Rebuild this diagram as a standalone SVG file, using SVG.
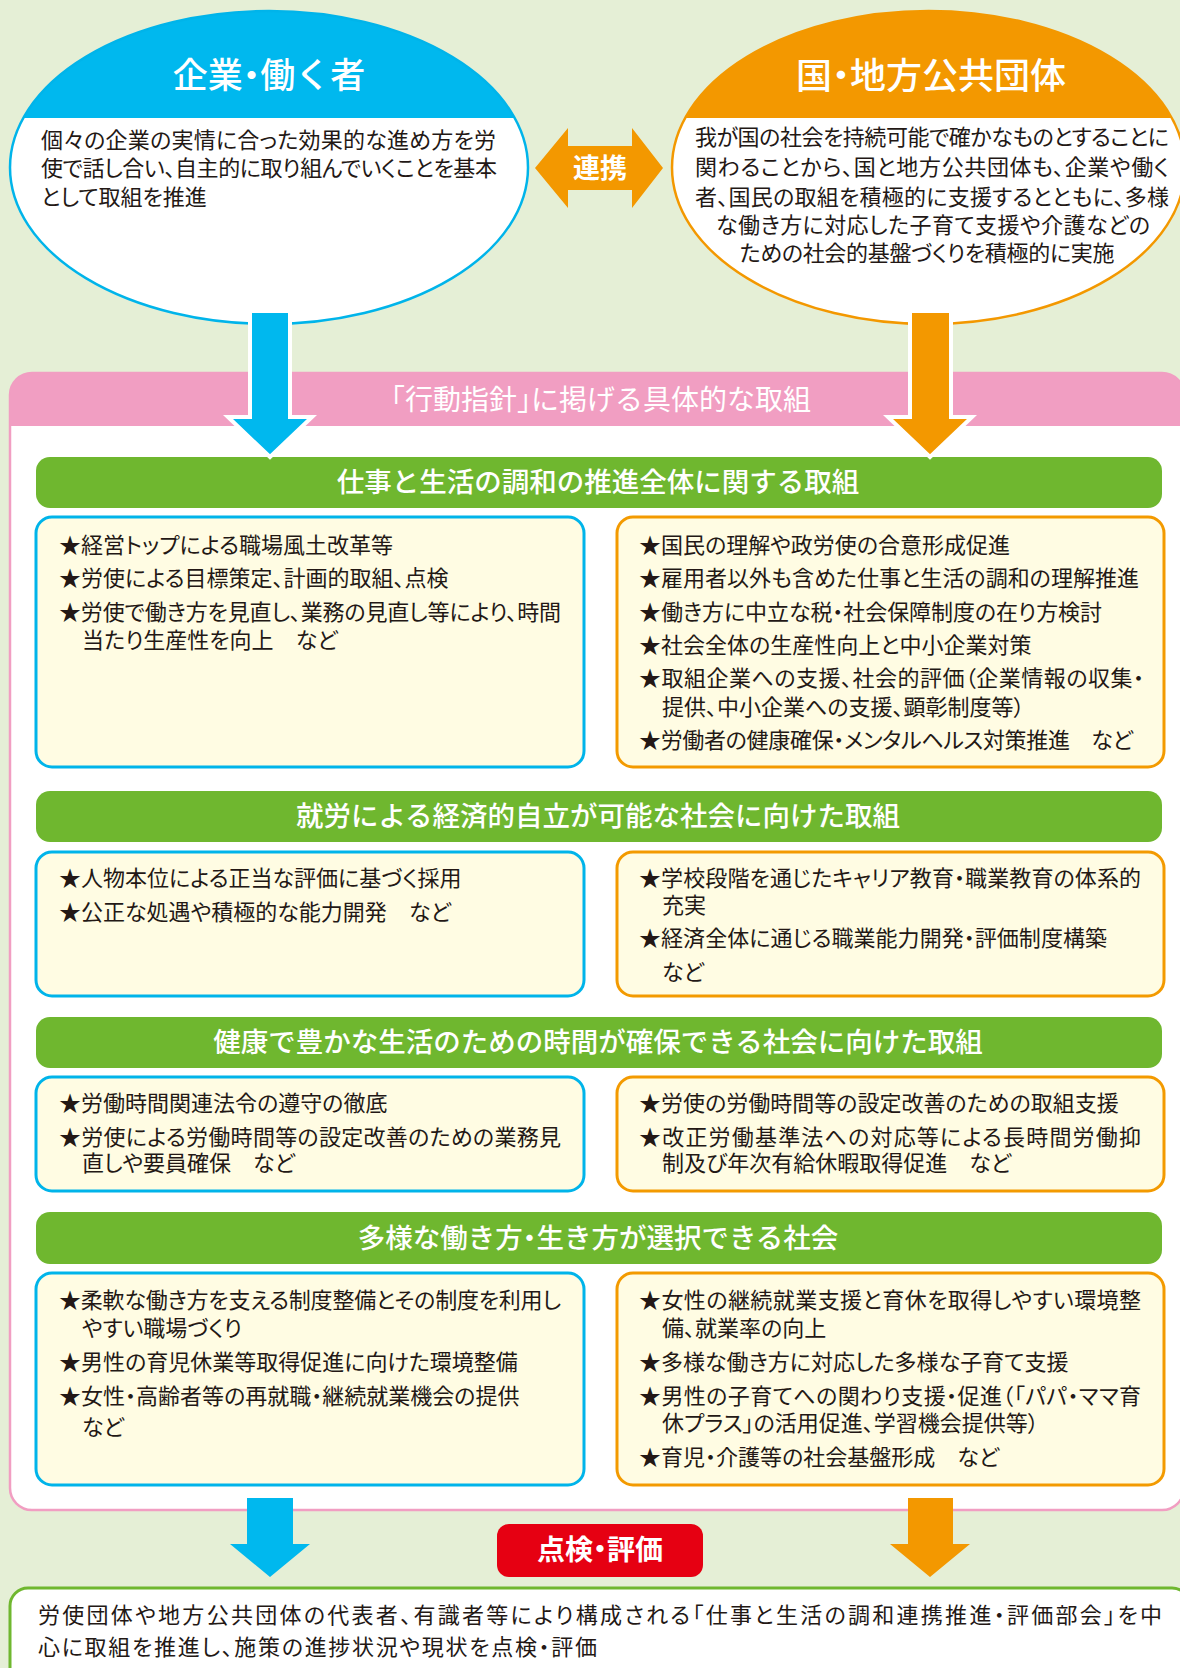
<svg xmlns="http://www.w3.org/2000/svg" width="1180" height="1668" viewBox="0 0 1180 1668">
<style>
.t{font-family:"Liberation Sans","Noto Sans CJK JP",sans-serif;font-feature-settings:"halt";}
.body{font-size:22px;fill:#231815;font-weight:400;font-feature-settings:"palt";}
.wt{fill:#fff;}
.bar{fill:#6FB72F;}
.lbox{fill:#FFFCE3;stroke:#00B4EA;stroke-width:3;}
.rbox{fill:#FFFCE3;stroke:#F39A00;stroke-width:3;}
.bt{font-size:27.5px;fill:#fff;text-anchor:middle;font-weight:500;}
.et{font-weight:500;text-anchor:middle;}
</style>
<defs>
<clipPath id="cl"><ellipse cx="269" cy="167.5" rx="259" ry="156.5"/></clipPath>
<clipPath id="cr"><ellipse cx="928.5" cy="167.5" rx="256.5" ry="156.5"/></clipPath>
</defs>
<rect x="0" y="0" width="1180" height="1668" fill="#E5EFD6"/>

<g id="node-kigyo">
<ellipse cx="269" cy="167.5" rx="259" ry="156.5" fill="#fff"/>
<rect x="0" y="0" width="540" height="118" fill="#00B8EE" clip-path="url(#cl)"/>
<ellipse cx="269" cy="167.5" rx="259" ry="156.5" fill="none" stroke="#00B4EA" stroke-width="2.5"/>
<text class="t wt et" x="269" y="88" font-size="35">企業・働く者</text>
<text class="t body" x="41" y="148" textLength="455">個々の企業の実情に合った効果的な進め方を労</text>
<text class="t body" x="41" y="176" textLength="456">使で話し合い、自主的に取り組んでいくことを基本</text>
<text class="t body" x="41" y="205">として取組を推進</text>
</g>

<g id="node-kuni">
<ellipse cx="928.5" cy="167.5" rx="256.5" ry="156.5" fill="#fff"/>
<rect x="660" y="0" width="530" height="118" fill="#F39800" clip-path="url(#cr)"/>
<ellipse cx="928.5" cy="167.5" rx="256.5" ry="156.5" fill="none" stroke="#F39800" stroke-width="2.5"/>
<text class="t wt et" x="931" y="89" font-size="36">国・地方公共団体</text>
<g class="t body" text-anchor="middle">
<text x="932" y="145" textLength="474">我が国の社会を持続可能で確かなものとすることに</text>
<text x="932" y="175" textLength="474">関わることから、国と地方公共団体も、企業や働く</text>
<text x="932" y="205" textLength="474">者、国民の取組を積極的に支援するとともに、多様</text>
<text x="933" y="233" textLength="434">な働き方に対応した子育て支援や介護などの</text>
<text x="927" y="261" textLength="375">ための社会的基盤づくりを積極的に実施</text>
</g>
</g>

<g id="node-panel">
<rect x="10" y="373" width="1174" height="1137" rx="22" fill="#fff" stroke="#F19EC2" stroke-width="2.5"/>
<path d="M10,426 V395 A22,22 0 0 1 32,373 H1162 A22,22 0 0 1 1184,395 V426 Z" fill="#F19EC2"/>
<text class="t wt" x="601" y="410" font-size="28" text-anchor="middle">「行動指針」に掲げる具体的な取組</text>
</g>

<g id="section-1">
<rect class="bar" x="36" y="457" width="1126" height="51" rx="14"/>
<text class="t bt" x="598" y="492">仕事と生活の調和の推進全体に関する取組</text>
<rect class="lbox" x="36" y="517" width="548" height="250" rx="16"/>
<rect class="rbox" x="617" y="517" width="547" height="250" rx="16"/>
<g class="t body">
<text x="59" y="553">★経営トップによる職場風土改革等</text>
<text x="59" y="586">★労使による目標策定、計画的取組、点検</text>
<text x="59" y="620" textLength="502">★労使で働き方を見直し、業務の見直し等により、時間</text>
<text x="82" y="648">当たり生産性を向上　など</text>
<text x="639" y="553">★国民の理解や政労使の合意形成促進</text>
<text x="639" y="586" textLength="500">★雇用者以外も含めた仕事と生活の調和の理解推進</text>
<text x="639" y="620" textLength="463">★働き方に中立な税・社会保障制度の在り方検討</text>
<text x="639" y="653">★社会全体の生産性向上と中小企業対策</text>
<text x="639" y="686" textLength="505">★取組企業への支援、社会的評価（企業情報の収集・</text>
<text x="662" y="715">提供、中小企業への支援、顕彰制度等）</text>
<text x="639" y="748" textLength="494">★労働者の健康確保・メンタルヘルス対策推進　など</text>
</g>
</g>

<g id="section-2">
<rect class="bar" x="36" y="791" width="1126" height="51" rx="14"/>
<text class="t bt" x="598" y="826">就労による経済的自立が可能な社会に向けた取組</text>
<rect class="lbox" x="36" y="852" width="548" height="144" rx="16"/>
<rect class="rbox" x="617" y="852" width="547" height="144" rx="16"/>
<g class="t body">
<text x="59" y="886">★人物本位による正当な評価に基づく採用</text>
<text x="59" y="920">★公正な処遇や積極的な能力開発　など</text>
<text x="639" y="886" textLength="502">★学校段階を通じたキャリア教育・職業教育の体系的</text>
<text x="662" y="913">充実</text>
<text x="639" y="946" textLength="468">★経済全体に通じる職業能力開発・評価制度構築</text>
<text x="662" y="980">など</text>
</g>
</g>

<g id="section-3">
<rect class="bar" x="36" y="1017" width="1126" height="51" rx="14"/>
<text class="t bt" x="598" y="1052">健康で豊かな生活のための時間が確保できる社会に向けた取組</text>
<rect class="lbox" x="36" y="1077" width="548" height="114" rx="16"/>
<rect class="rbox" x="617" y="1077" width="547" height="114" rx="16"/>
<g class="t body">
<text x="59" y="1111">★労働時間関連法令の遵守の徹底</text>
<text x="59" y="1145" textLength="502">★労使による労働時間等の設定改善のための業務見</text>
<text x="82" y="1171">直しや要員確保　など</text>
<text x="639" y="1111">★労使の労働時間等の設定改善のための取組支援</text>
<text x="639" y="1145" textLength="502">★改正労働基準法への対応等による長時間労働抑</text>
<text x="662" y="1171">制及び年次有給休暇取得促進　など</text>
</g>
</g>

<g id="section-4">
<rect class="bar" x="36" y="1212" width="1126" height="52" rx="14"/>
<text class="t bt" x="598" y="1248">多様な働き方・生き方が選択できる社会</text>
<rect class="lbox" x="36" y="1273" width="548" height="212" rx="16"/>
<rect class="rbox" x="617" y="1273" width="547" height="212" rx="16"/>
<g class="t body">
<text x="59" y="1308" textLength="502">★柔軟な働き方を支える制度整備とその制度を利用し</text>
<text x="82" y="1336">やすい職場づくり</text>
<text x="59" y="1370">★男性の育児休業等取得促進に向けた環境整備</text>
<text x="59" y="1404">★女性・高齢者等の再就職・継続就業機会の提供</text>
<text x="82" y="1435">など</text>
<text x="639" y="1308" textLength="502">★女性の継続就業支援と育休を取得しやすい環境整</text>
<text x="662" y="1336">備、就業率の向上</text>
<text x="639" y="1370">★多様な働き方に対応した多様な子育て支援</text>
<text x="639" y="1404" textLength="502">★男性の子育てへの関わり支援・促進（「パパ・ママ育</text>
<text x="662" y="1431">休プラス」の活用促進、学習機会提供等）</text>
<text x="639" y="1465">★育児・介護等の社会基盤形成　など</text>
</g>
</g>

<g id="connectors">
<polygon points="535,168 568,128 568,146 632,146 632,128 663,168 632,208 632,190 568,190 568,208" fill="#F39800"/>
<text class="t wt" x="600" y="178" font-size="27" font-weight="bold" text-anchor="middle">連携</text>
<polygon points="250,311 290,311 290,417 312,417 270,457 228,417 250,417" fill="#00B8EE" stroke="#fff" stroke-width="4"/>
<polygon points="910,311 951,311 951,417 972,417 930,457 888,417 910,417" fill="#F39800" stroke="#fff" stroke-width="4"/>
<polygon points="247,1498 293,1498 293,1544 310,1544 270,1577 230,1544 247,1544" fill="#00B8EE"/>
<polygon points="908,1498 953,1498 953,1544 970,1544 930,1577 890,1544 908,1544" fill="#F39800"/>
</g>

<g id="node-tenken">
<rect x="497" y="1524" width="206" height="53" rx="12" fill="#E60012"/>
<text class="t wt" x="600" y="1560" font-size="28" font-weight="bold" text-anchor="middle">点検・評価</text>
</g>

<g id="node-bukai">
<rect x="10" y="1588" width="1180" height="100" rx="18" fill="#fff" stroke="#6FB72F" stroke-width="3"/>
<text class="t body" x="38" y="1623" font-size="23" textLength="1124">労使団体や地方公共団体の代表者、有識者等により構成される「仕事と生活の調和連携推進・評価部会」を中</text>
<text class="t body" x="38" y="1655" font-size="23" textLength="559">心に取組を推進し、施策の進捗状況や現状を点検・評価</text>
</g>
</svg>
